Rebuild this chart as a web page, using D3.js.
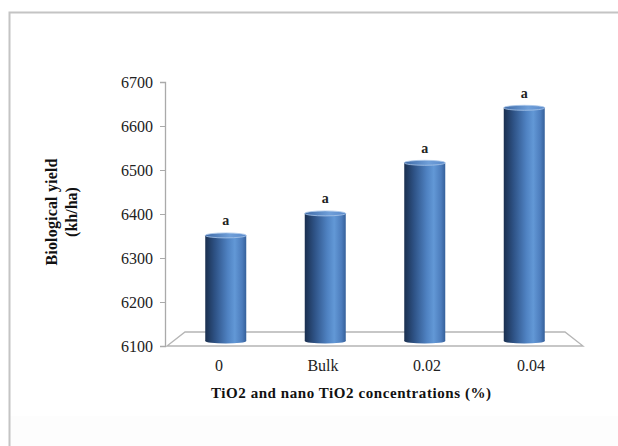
<!DOCTYPE html>
<html><head><meta charset="utf-8">
<script src="https://cdn.jsdelivr.net/npm/d3@7/dist/d3.min.js"></script>
<style>body{margin:0;background:#fff}svg{display:block}</style>
</head><body>
<svg id="c" width="618" height="446"></svg>
<script>
const categories = ["0", "Bulk", "0.02", "0.04"];
const values = [6340, 6390, 6505, 6630];
const letters = ["a", "a", "a", "a"];
const yTicks = [6100, 6200, 6300, 6400, 6500, 6600, 6700];
const yTitle = ["Biological yield", "(kh/ha)"];
const xTitle = "TiO2 and nano TiO2 concentrations (%)";

const svg = d3.select("#c");
const serif = "'Liberation Serif','Times New Roman',serif";

// frame
svg.append("rect").attr("x",0).attr("y",0).attr("width",618).attr("height",446).attr("fill","#ffffff");
svg.append("rect").attr("x",10).attr("y",416).attr("width",608).attr("height",30).attr("fill","#fdfdfd");
svg.append("path").attr("d","M9.5,446 V12.5 H618").attr("fill","none").attr("stroke","#c4c4c4").attr("stroke-width",2);

const y = d3.scaleLinear().domain([6100,6700]).range([346,82]);
const depth = 14, half = 7;
const xFront = d3.scaleBand().domain(categories).range([167,583]);
const xMid = d3.scaleBand().domain(categories).range([167+9,583-9]);

// floor
const y0 = y(6100);
svg.append("path")
  .attr("d",`M167,${y0} L${167+18},${y0-depth} L${583-18},${y0-depth} L583,${y0} Z`)
  .attr("fill","#fff").attr("stroke","#b5b5b5").attr("stroke-width",1.3);

// axis
const axis = d3.axisLeft(y).tickValues(yTicks).tickSize(5).tickPadding(7).tickFormat(d3.format("d"));
const ag = svg.append("g").attr("transform","translate(165,0)").call(axis);
ag.select(".domain").attr("stroke","#aaaaaa").attr("stroke-width",1.3);
ag.selectAll(".tick line").attr("stroke","#aaaaaa");
ag.selectAll(".tick text").attr("font-family",serif).attr("font-size",16).attr("fill","#222");

// gradients
const defs = svg.append("defs");
const g1 = defs.append("linearGradient").attr("id","cyl").attr("x1","0").attr("x2","1").attr("y1","0").attr("y2","0");
[[0,"#1a2f4f"],[0.25,"#2f5488"],[0.55,"#4f82c2"],[0.72,"#6298d6"],[0.9,"#4c7cbc"],[1,"#35609a"]]
  .forEach(([o,c])=>g1.append("stop").attr("offset",o).attr("stop-color",c));
const g2 = defs.append("linearGradient").attr("id","topg").attr("x1","0").attr("x2","1");
[[0,"#3f6aa6"],[0.6,"#6f9fd9"],[1,"#5a8acb"]].forEach(([o,c])=>g2.append("stop").attr("offset",o).attr("stop-color",c));

const bw = 41, ry = 2.5;
const bars = svg.append("g").selectAll("g").data(categories).join("g");
bars.each(function(d,i){
  const g = d3.select(this);
  const cx = xMid(d) + xMid.bandwidth()/2;
  const top = y(values[i]) - 5;
  const bot = y0 - half + 2;
  g.append("ellipse").attr("cx",cx).attr("cy",bot).attr("rx",bw/2).attr("ry",ry).attr("fill","url(#cyl)");
  g.append("rect").attr("x",cx-bw/2).attr("y",top).attr("width",bw).attr("height",bot-top).attr("fill","url(#cyl)");
  g.append("ellipse").attr("cx",cx).attr("cy",top).attr("rx",bw/2).attr("ry",ry).attr("fill","url(#topg)").attr("stroke","#a9c6ea").attr("stroke-width",0.8);
  g.append("text").attr("x",cx).attr("y",top-10).attr("text-anchor","middle")
    .attr("font-family",serif).attr("font-weight","bold").attr("font-size",14).attr("fill","#222").text(letters[i]);
});

// x labels
svg.append("g").selectAll("text").data(categories).join("text")
  .attr("x",d=>xFront(d)+xFront.bandwidth()/2).attr("y",371).attr("text-anchor","middle")
  .attr("font-family",serif).attr("font-size",16).attr("fill","#222").text(d=>d);

// x title
svg.append("text").attr("x",351).attr("y",398).attr("text-anchor","middle")
  .attr("font-family",serif).attr("font-weight","bold").attr("font-size",15).attr("fill","#111")
  .attr("textLength",280).attr("lengthAdjust","spacing").text(xTitle);

// y title
const yt = svg.append("text").attr("transform","translate(0,212) rotate(-90)")
  .attr("text-anchor","middle").attr("font-family",serif).attr("font-weight","bold").attr("font-size",16).attr("fill","#111");
yt.append("tspan").attr("x",0).attr("y",57).attr("textLength",107).attr("lengthAdjust","spacing").text(yTitle[0]);
yt.append("tspan").attr("x",0).attr("y",77).text(yTitle[1]);
</script>
</body></html>
